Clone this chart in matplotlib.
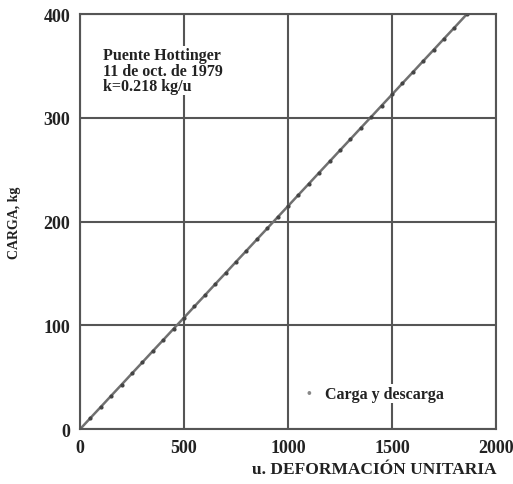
import matplotlib.pyplot as plt

plt.rcParams['font.family'] = ['Liberation Serif', 'DejaVu Serif']
plt.rcParams['font.weight'] = 'bold'
plt.rcParams['axes.labelweight'] = 'bold'

# deformacion unitaria (u) y carga (kg)
deformacion = [0, 50, 100, 150, 200, 250, 300, 350, 400, 450, 500,
               550, 600, 650, 700, 750, 800, 850, 900, 950, 1000,
               1050, 1100, 1150, 1200, 1250, 1300, 1350, 1400, 1450, 1500,
               1550, 1600, 1650, 1700, 1750, 1800, 1860]
carga = [0, 10.8, 21.5, 32.3, 43, 53.8, 64.5, 75.3, 86, 96.8, 107.5,
         118.3, 129, 139.8, 150.5, 161.3, 172, 182.8, 193.5, 204.3, 215,
         225.8, 236.5, 247.3, 258, 268.8, 279.5, 290.3, 301, 311.8, 322.5,
         333.3, 344, 354.8, 365.5, 376.3, 387, 400]

xticks = [0, 500, 1000, 1500, 2000]
yticks = [0, 100, 200, 300, 400]

fig = plt.figure(figsize=(5.13, 4.85), dpi=100)
ax = fig.add_axes([0.156, 0.113, 0.811, 0.856])

ax.plot(deformacion, carga, color='#707070', lw=1.8, marker='o', ms=2.0,
        mfc='#444444', mec='#444444')

ax.set_xlim(0, 2000)
ax.set_ylim(0, 400)
ax.set_xticks(xticks)
ax.set_yticks(yticks)
ax.tick_params(length=0, labelsize=13, colors='#222222', pad=7)
ax.grid(True, color='#555555', lw=1.5)
ax.set_axisbelow(True)
for s in ax.spines.values():
    s.set_color('#555555')
    s.set_linewidth(1.5)

ax.set_xlabel('u. DEFORMACIÓN UNITARIA', fontsize=12.5, color='#222222',
              labelpad=4, loc='right')
ax.set_ylabel('CARGA, kg', fontsize=10, color='#222222', labelpad=16)

ax.text(0.055, 0.92, 'Puente Hottinger\n11 de oct. de 1979\nk=0.218 kg/u',
        transform=ax.transAxes, fontsize=11.5, va='top', ha='left',
        color='#222222', linespacing=0.95,
        bbox=dict(facecolor='white', edgecolor='none', pad=1))
ax.text(0.545, 0.085, '•', transform=ax.transAxes, fontsize=10,
        color='#888888', va='center', ha='left')
ax.text(0.59, 0.085, 'Carga y descarga', transform=ax.transAxes,
        fontsize=11.5, color='#222222', va='center', ha='left',
        bbox=dict(facecolor='white', edgecolor='none', pad=1))

plt.savefig('out.png', dpi=100)
